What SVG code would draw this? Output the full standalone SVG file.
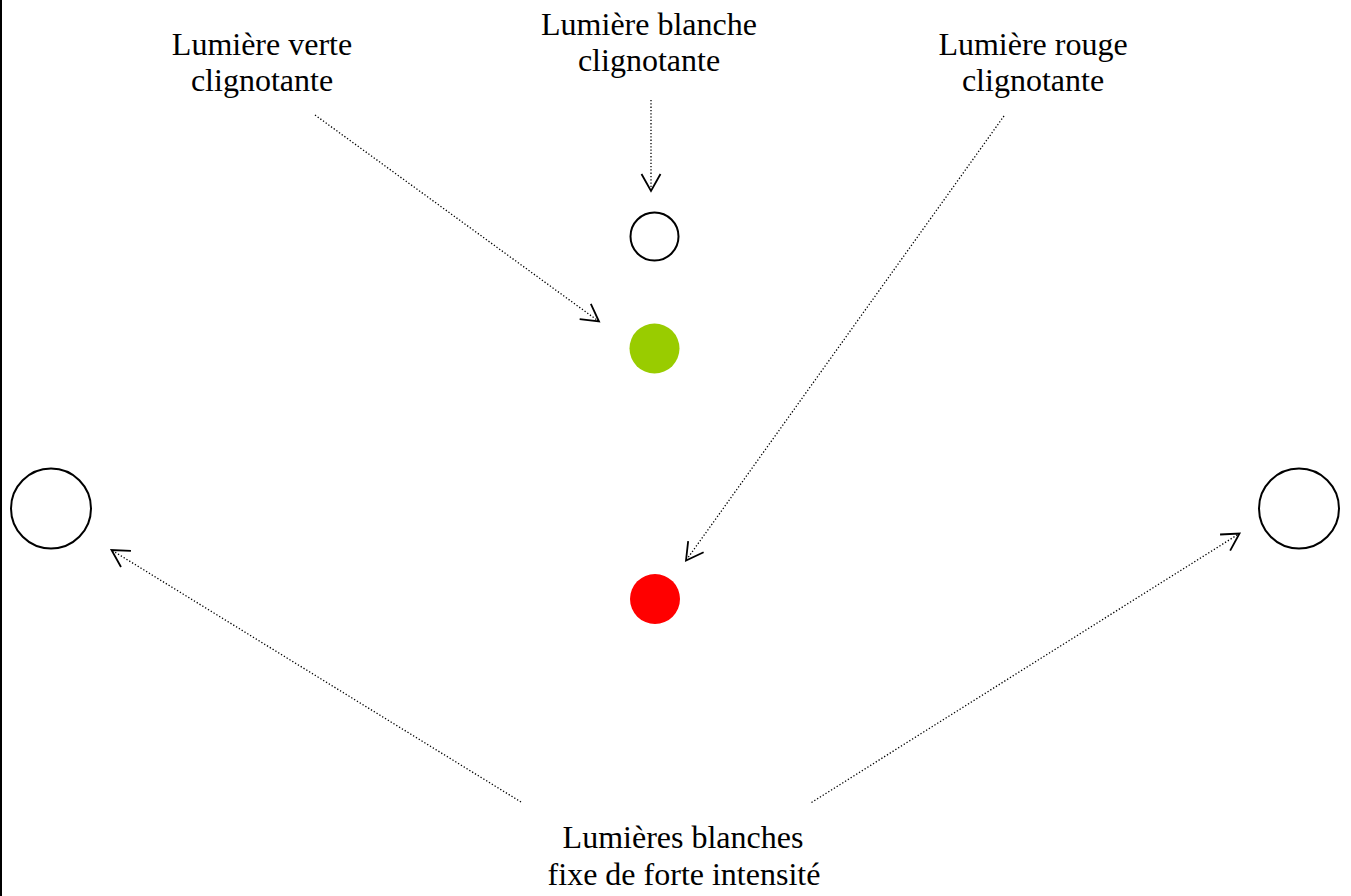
<svg xmlns="http://www.w3.org/2000/svg" width="1351" height="896" viewBox="0 0 1351 896">
<style>
.lbl{font-family:"Liberation Serif","Times New Roman",serif;font-size:32px;fill:#000;text-anchor:middle}
.ring{fill:#fff;stroke:#000;stroke-width:2}
.con{fill:none;stroke:#000;stroke-width:1.3;stroke-dasharray:1.3 2}
</style>
<defs>
<marker id="arr" markerUnits="userSpaceOnUse" markerWidth="22" markerHeight="24" viewBox="0 0 22 24" refX="19" refY="12" orient="auto">
<path d="M2,2.5 L19,12 L2,21.5" fill="none" stroke="#000" stroke-width="1.8"/>
</marker>
</defs>
<rect x="0" y="0" width="1351" height="896" fill="#fff"/>
<line x1="1" y1="0" x2="1" y2="896" stroke="#000" stroke-width="2"/>
<g id="light-white-top"><circle class="ring" cx="654.5" cy="236.5" r="24"/></g>
<g id="light-green"><circle cx="654.5" cy="348.5" r="25" fill="#99CC00"/></g>
<g id="light-red"><circle cx="655" cy="599" r="25" fill="#FF0000"/></g>
<g id="light-left"><circle class="ring" cx="51" cy="508.5" r="40"/></g>
<g id="light-right"><circle class="ring" cx="1299" cy="508.5" r="40"/></g>
<g id="label-green"><text class="lbl" x="262" y="55">Lumière verte</text><text class="lbl" x="262" y="91">clignotante</text></g>
<g id="label-white"><text class="lbl" x="649" y="35">Lumière blanche</text><text class="lbl" x="649" y="71">clignotante</text></g>
<g id="label-red"><text class="lbl" x="1033" y="55">Lumière rouge</text><text class="lbl" x="1033" y="91">clignotante</text></g>
<g id="label-bottom"><text class="lbl" x="683" y="848">Lumières blanches</text><text class="lbl" x="684" y="885">fixe de forte intensité</text></g>
<g id="connectors">
<line class="con" x1="651" y1="100" x2="651" y2="191" marker-end="url(#arr)"/>
<line class="con" x1="315" y1="115" x2="599" y2="321.5" marker-end="url(#arr)"/>
<line class="con" x1="1004" y1="116" x2="686" y2="560.5" marker-end="url(#arr)"/>
<line class="con" x1="521" y1="802" x2="111.5" y2="550" marker-end="url(#arr)"/>
<line class="con" x1="811.5" y1="802.5" x2="1239.5" y2="533.5" marker-end="url(#arr)"/>
</g>
</svg>
